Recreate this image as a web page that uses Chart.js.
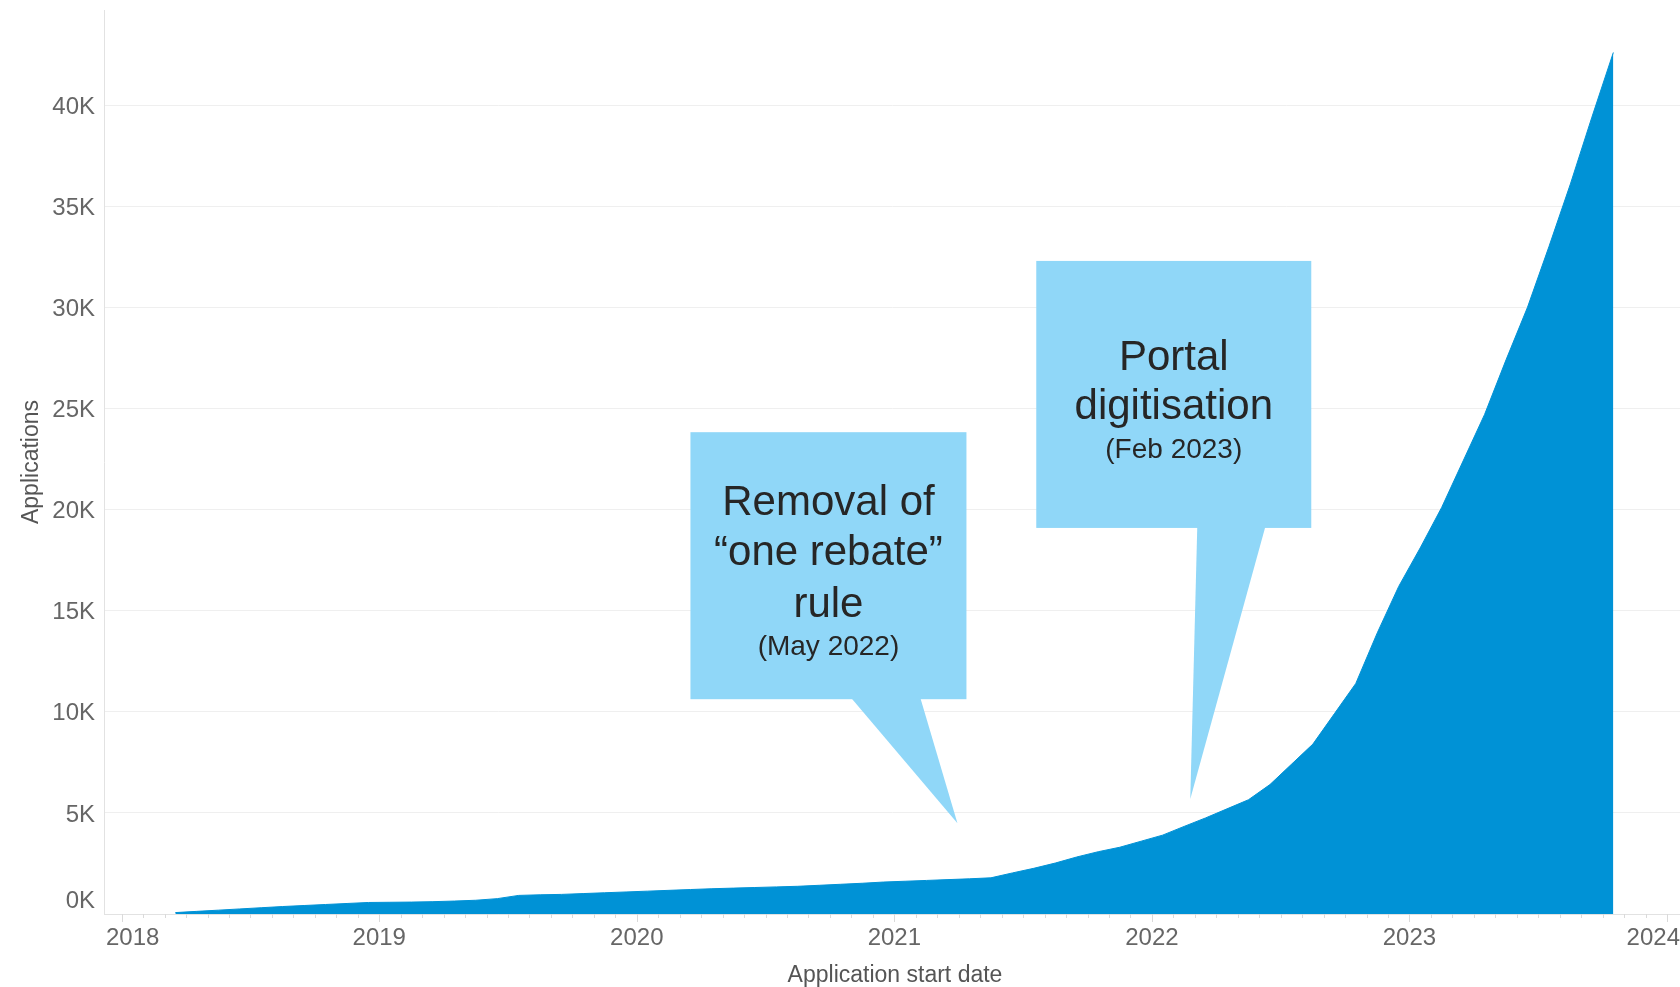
<!DOCTYPE html>
<html>
<head>
<meta charset="utf-8">
<script src="https://cdn.jsdelivr.net/npm/chart.js@4/dist/chart.umd.min.js"></script>
<style>
  html, body { margin: 0; padding: 0; background: #fff; }
  #wrap { width: 1680px; height: 987px; position: relative; }
</style>
</head>
<body>
<div id="wrap"><canvas id="chart-1"></canvas></div>
<script>
// monthly application starts (cumulative)
const months = [
  "2018-03", "2018-04", "2018-05", "2018-06", "2018-07", "2018-08", "2018-09", "2018-10", "2018-11", "2018-12",
  "2019-01", "2019-02", "2019-03", "2019-04", "2019-05", "2019-06", "2019-07", "2019-08", "2019-09", "2019-10", "2019-11", "2019-12",
  "2020-01", "2020-02", "2020-03", "2020-04", "2020-05", "2020-06", "2020-07", "2020-08", "2020-09", "2020-10", "2020-11", "2020-12",
  "2021-01", "2021-02", "2021-03", "2021-04", "2021-05", "2021-06", "2021-07", "2021-08", "2021-09", "2021-10", "2021-11", "2021-12",
  "2022-01", "2022-02", "2022-03", "2022-04", "2022-05", "2022-06", "2022-07", "2022-08", "2022-09", "2022-10", "2022-11", "2022-12",
  "2023-01", "2023-02", "2023-03", "2023-04", "2023-05", "2023-06", "2023-07", "2023-08", "2023-09", "2023-10",
];
const applications = [
  70, 130, 190, 250, 310, 370, 420, 470, 520, 570,
  580, 590, 610, 640, 680, 760, 920, 950, 970, 1010, 1050, 1090,
  1130, 1170, 1210, 1250, 1280, 1310, 1340, 1370, 1420, 1470, 1520, 1580,
  1620, 1660, 1700, 1740, 1790, 2030, 2260, 2520, 2820, 3080, 3300, 3600,
  3900, 4330, 4750, 5200, 5650, 6400, 7400, 8400, 9900, 11400, 13900, 16200,
  18100, 20100, 22400, 24700, 27400, 30000, 33000, 36100, 39400, 42600,
];
const xTickYears = [2018, 2019, 2020, 2021, 2022, 2023, 2024];
const yTickValues = [0, 5000, 10000, 15000, 20000, 25000, 30000, 35000, 40000];

// callouts: tip is in data units, the box is placed relative to the tip
const callouts = [
  {
    lines: ["Removal of", "\u201Cone rebate\u201D", "rule"],
    sub: "(May 2022)",
    tipX: 2021.245, tipY: 4490,
    box: { dx: -267, dy: -391, w: 276, h: 267 },
    tail: [-106, -37],
    baselines: [83, 133, 185], subBaseline: 223,
  },
  {
    lines: ["Portal", "digitisation"],
    sub: "(Feb 2023)",
    tipX: 2022.149, tipY: 5690,
    box: { dx: -154, dy: -538, w: 275, h: 267 },
    tail: [7, 75],
    baselines: [109, 158], subBaseline: 197,
  },
];

const FONT = '"Liberation Sans", Arial, sans-serif';
Chart.defaults.font.family = FONT;

const points = months.map((m, i) => {
  const [yy, mm] = m.split("-").map(Number);
  return { x: yy + (mm - 0.5) / 12, y: applications[i] };
});

const axisText = {
  id: "axisText",
  afterDraw(chart) {
    const { ctx, chartArea: ca, scales: { x, y } } = chart;
    ctx.save();

    // month / year tick marks under the x axis
    ctx.strokeStyle = "#dadada";
    ctx.lineWidth = 1;
    for (let yr = 2017; yr <= 2024; yr++) {
      for (let m = 0; m < 12; m++) {
        const px = Math.round(x.getPixelForValue(yr + m / 12)) + 0.5;
        if (px < ca.left || px > ca.right) continue;
        const len = m === 0 ? 8 : 4;
        ctx.beginPath();
        ctx.moveTo(px, ca.bottom);
        ctx.lineTo(px, ca.bottom + len);
        ctx.stroke();
      }
    }

    // x tick labels, kept inside the pane
    ctx.font = "24px " + FONT;
    ctx.fillStyle = "#666";
    ctx.textBaseline = "middle";
    ctx.textAlign = "left";
    xTickYears.forEach(t => {
      const s = String(t);
      const w = ctx.measureText(s).width;
      let left = x.getPixelForValue(t) - w / 2;
      left = Math.max(ca.left + 2, Math.min(left, chart.width - w));
      ctx.fillText(s, left, ca.bottom + 24);
    });

    // y tick labels
    ctx.textAlign = "right";
    yTickValues.forEach(v => {
      const py = Math.min(y.getPixelForValue(v), ca.bottom - 15);
      ctx.fillText(v / 1000 + "K", ca.left - 9, py + 2);
    });

    // axis titles
    ctx.fillStyle = "#555";
    ctx.font = "23px " + FONT;
    ctx.textAlign = "center";
    ctx.fillText("Application start date", (ca.left + ca.right) / 2 + 3, 976);
    ctx.save();
    ctx.translate(32, (ca.top + ca.bottom) / 2);
    ctx.rotate(-Math.PI / 2);
    ctx.fillText("Applications", 0, 0);
    ctx.restore();

    // callouts
    callouts.forEach(c => {
      const tx = x.getPixelForValue(c.tipX);
      const ty = y.getPixelForValue(c.tipY);
      const bx = tx + c.box.dx, by = ty + c.box.dy;
      const bottom = by + c.box.h;
      ctx.fillStyle = "#90d7f8";
      ctx.fillRect(bx, by, c.box.w, c.box.h);
      ctx.beginPath();
      ctx.moveTo(tx + c.tail[0], bottom - 1);
      ctx.lineTo(tx + c.tail[1], bottom - 1);
      ctx.lineTo(tx, ty);
      ctx.closePath();
      ctx.fill();

      const cx = bx + c.box.w / 2;
      ctx.fillStyle = "#262626";
      ctx.textAlign = "center";
      ctx.textBaseline = "alphabetic";
      ctx.font = "42px " + FONT;
      c.lines.forEach((ln, i) => ctx.fillText(ln, cx, by + c.baselines[i]));
      ctx.font = "28px " + FONT;
      ctx.fillText(c.sub, cx, by + c.subBaseline);
    });

    ctx.restore();
  },
};

const ctx1 = document.getElementById("chart-1").getContext("2d");
const myChart = new Chart(ctx1, {
  type: "line",
  data: {
    datasets: [
      {
        label: "Applications",
        data: points,
        fill: "origin",
        backgroundColor: "#0092d6",
        borderColor: "#0092d6",
        borderWidth: 1,
        pointRadius: 0,
        tension: 0,
      },
    ],
  },
  options: {
    responsive: true,
    maintainAspectRatio: false,
    animation: false,
    layout: { padding: { left: 104, top: 10, right: 0, bottom: 73 } },
    plugins: { legend: { display: false }, tooltip: { enabled: false } },
    scales: {
      x: {
        type: "linear",
        min: 2017.9313,
        max: 2024.0505,
        afterBuildTicks: s => { s.ticks = xTickYears.map(v => ({ value: v })); },
        ticks: { display: false },
        grid: { display: false, drawTicks: false },
        border: { display: true, color: "#e2e2e2" },
      },
      y: {
        min: 0,
        max: 44700,
        afterBuildTicks: s => { s.ticks = yTickValues.map(v => ({ value: v })); },
        ticks: { display: false },
        grid: { color: "#efefef", drawTicks: false },
        border: { display: true, color: "#e2e2e2" },
      },
    },
  },
  plugins: [axisText],
});
</script>
</body>
</html>
